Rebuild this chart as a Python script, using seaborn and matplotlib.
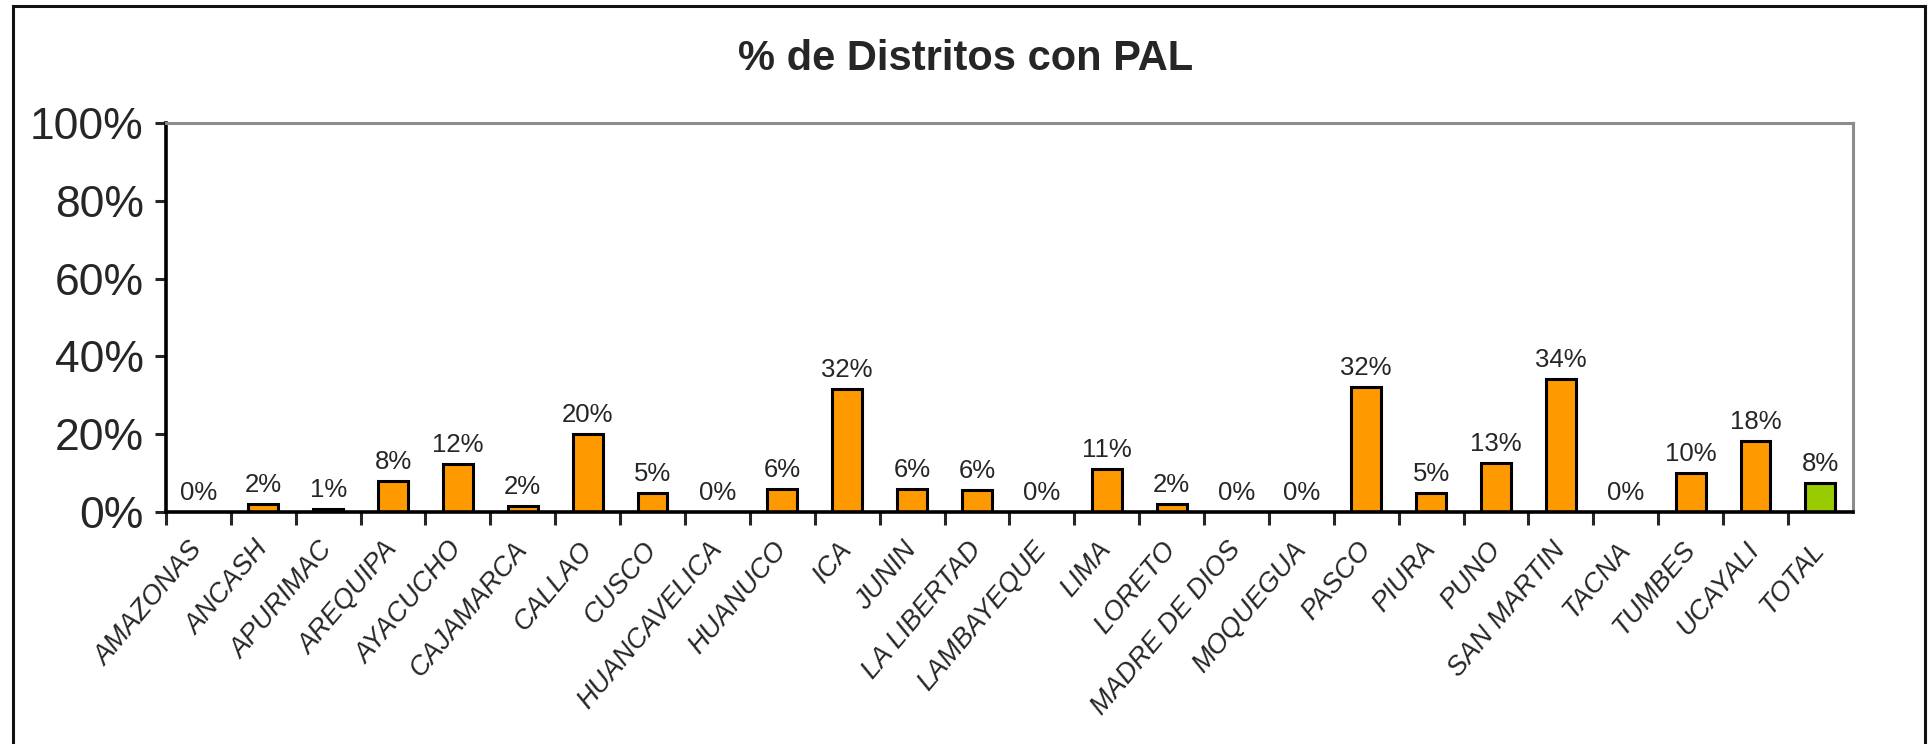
import matplotlib
matplotlib.use("Agg")
import matplotlib.pyplot as plt
import matplotlib.patches as mpatches
from matplotlib.ticker import FixedLocator, PercentFormatter
import numpy as np
import pandas as pd
import seaborn as sns

# datos
regiones = ['AMAZONAS', 'ANCASH', 'APURIMAC', 'AREQUIPA', 'AYACUCHO', 'CAJAMARCA',
            'CALLAO', 'CUSCO', 'HUANCAVELICA', 'HUANUCO', 'ICA', 'JUNIN',
            'LA LIBERTAD', 'LAMBAYEQUE', 'LIMA', 'LORETO', 'MADRE DE DIOS',
            'MOQUEGUA', 'PASCO', 'PIURA', 'PUNO', 'SAN MARTIN', 'TACNA',
            'TUMBES', 'UCAYALI', 'TOTAL']
porcentaje = [0.0, 1.9, 0.8, 7.9, 12.2, 1.5, 20.0, 4.9, 0.0, 6.0, 31.5, 6.0,
              5.6, 0.0, 11.1, 1.9, 0.0, 0.0, 32.2, 4.9, 12.6, 34.2, 0.0,
              10.0, 18.1, 7.5]
etiquetas = ['0%', '2%', '1%', '8%', '12%', '2%', '20%', '5%', '0%', '6%', '32%',
             '6%', '6%', '0%', '11%', '2%', '0%', '0%', '32%', '5%', '13%',
             '34%', '0%', '10%', '18%', '8%']

df = pd.DataFrame({'region': regiones, 'pct': np.array(porcentaje) / 100})
colores = ['#FF9900'] * (len(regiones) - 1) + ['#99CC00']

sns.set_style('white')
fuente = ['Liberation Sans', 'DejaVu Sans']
plt.rcParams['font.family'] = fuente

fig = plt.figure(figsize=(19.3, 7.44), dpi=100)
ax = fig.add_axes([0.086, 0.312, 0.874, 0.5227])

sns.barplot(data=df, x='region', y='pct', hue='region', palette=colores,
            legend=False, width=0.46, edgecolor='black', linewidth=2.2,
            saturation=1, ax=ax)

ax.set_xlim(-0.5, len(regiones) - 0.5)
ax.set_ylim(0, 1)
ax.yaxis.set_major_locator(FixedLocator([0, 0.2, 0.4, 0.6, 0.8, 1.0]))
ax.yaxis.set_major_formatter(PercentFormatter(1.0, decimals=0))
ax.tick_params(axis='y', labelsize=32, length=8, width=2.2, direction='out',
               left=True, pad=8)

# ticks entre categorias, etiquetas al centro
pos = np.arange(len(regiones))
ax.set_xticks(pos - 0.5)
ax.set_xticks(pos, minor=True)
ax.set_xticklabels([''] * len(regiones))
ax.set_xticklabels(regiones, minor=True)
ax.tick_params(axis='x', which='major', length=9, width=2.2, direction='out',
               bottom=True)
ax.tick_params(axis='x', which='minor', length=0, pad=24)
for t in ax.get_xticklabels(minor=True):
    t.set_rotation(50)
    t.set_rotation_mode('anchor')
    t.set_ha('right')
    t.set_va('center')
    t.set_fontsize(19.5)
    t.set_fontstyle('italic')

ax.set_xlabel('')
ax.set_ylabel('')

for i, (v, lab) in enumerate(zip(df['pct'], etiquetas)):
    ax.text(i, v + 0.018, lab, ha='center', va='bottom', fontsize=18.5)

for s in ['left', 'bottom']:
    ax.spines[s].set_color('black')
    ax.spines[s].set_linewidth(2.6)
for s in ['top', 'right']:
    ax.spines[s].set_color('#8c8c8c')
    ax.spines[s].set_linewidth(2.2)

fig.text(0.5005, 0.921, '% de Distritos con PAL', ha='center', va='center',
         fontsize=30, fontweight='bold')

# marco exterior
marco = mpatches.Rectangle((0.0065, -0.02), 0.991, 1.012, transform=fig.transFigure,
                           fill=False, edgecolor='#111111', linewidth=2.2)
fig.patches.append(marco)

fig.savefig('out.png', dpi=100)
